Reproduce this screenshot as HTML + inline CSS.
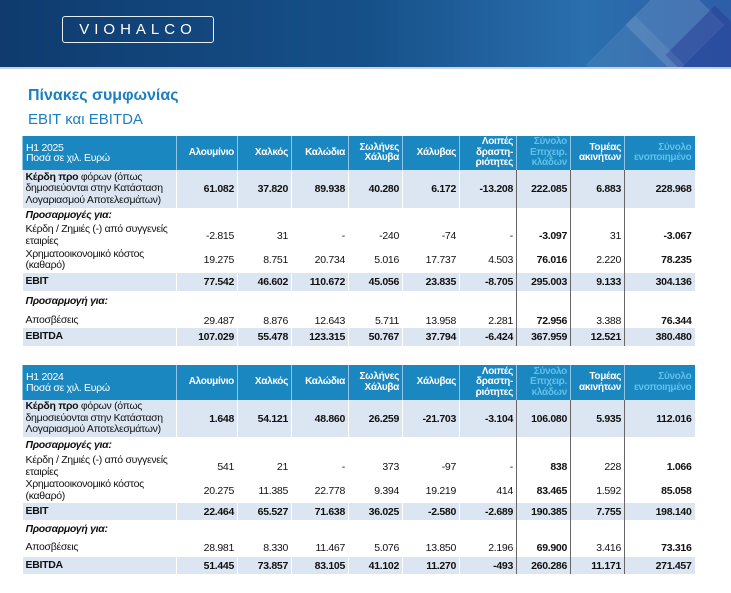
<!DOCTYPE html>
<html><head><meta charset="utf-8">
<style>
body{margin:0;width:731px;height:593px;background:#fff;font-family:"Liberation Sans",sans-serif;overflow:hidden;position:relative}
#banner{position:absolute;left:0;top:0;width:731px;height:67px;background:linear-gradient(90deg,#0f3b6e 0%,#165089 50%,#2a6fae 80%,#2f5da8 100%);border-bottom:2px solid #c9d3de;overflow:hidden}
.chev{position:absolute;width:70px;height:70px;transform:rotate(45deg);background:rgba(255,255,255,0.12)}
#logo{position:absolute;left:62px;top:16px;width:150px;height:25px;border:1.5px solid #e6eef6;border-radius:3px;color:#fff;font-size:15px;letter-spacing:5px;text-align:center;line-height:25px}
#t1{position:absolute;left:28px;top:87px;font-weight:bold;font-size:16px;color:#1b7fc0}
#t2{position:absolute;left:28px;top:111px;font-size:15px;color:#1b7fc0}
table{position:absolute;left:22px;border-collapse:collapse;table-layout:fixed;width:672px;font-size:10.5px;color:#111;letter-spacing:-0.3px}
td{padding:0 3px;text-align:right;border-left:1px solid #fff;white-space:nowrap;overflow:hidden}
td:first-child{text-align:left;white-space:normal;line-height:11.5px;border-left:none}
tr.h td{background:#1b87c0;color:#fff;font-weight:bold;line-height:10.5px;border-left:1px solid #8fc4e2;font-size:10px}
tr.h td:first-child{font-weight:normal;font-size:10.5px}
tr.h td.s{color:#5fc0ec}
tr.l td{background:#dce6f2}
tr.b td{font-weight:bold}
td.dk{border-left:1px solid #666 !important}
td.bd{font-weight:bold}
.it{font-style:italic;font-weight:bold}
</style></head><body>
<div id="banner">
<div class="chev" style="left:640px;top:-10px"></div>
<div class="chev" style="left:680px;top:20px;background:rgba(40,60,150,0.5)"></div>
<div class="chev" style="left:600px;top:30px;background:rgba(255,255,255,0.08)"></div>
<div id="logo">VIOHALCO</div>
</div>
<div id="t1">Πίνακες συμφωνίας</div>
<div id="t2">EBIT και EBITDA</div>

<table style="top:136px">
<colgroup><col style="width:154px"><col style="width:61px"><col style="width:54px"><col style="width:57px"><col style="width:54px"><col style="width:57px"><col style="width:57px"><col style="width:54px"><col style="width:54px"><col style="width:70px"></colgroup>
<tr class="h" style="height:34px"><td>H1 2025<br>Ποσά σε χιλ. Ευρώ</td><td>Αλουμίνιο</td><td>Χαλκός</td><td>Καλώδια</td><td>Σωλήνες<br>Χάλυβα</td><td>Χάλυβας</td><td>Λοιπές<br>δραστη-<br>ριότητες</td><td class="s">Σύνολο<br>Επιχειρ.<br>κλάδων</td><td>Τομέας<br>ακινήτων</td><td class="s">Σύνολο<br>ενοποιημένο</td></tr>
<tr class="l b" style="height:38px"><td><b>Κέρδη προ</b> <span style="font-weight:normal">φόρων (όπως δημοσιεύονται στην Κατάσταση Λογαριασμού Αποτελεσμάτων)</span></td><td>61.082</td><td>37.820</td><td>89.938</td><td>40.280</td><td>6.172</td><td>-13.208</td><td class="dk">222.085</td><td class="dk">6.883</td><td class="dk">228.968</td></tr>
<tr style="height:16px"><td class="it">Προσαρμογές για:</td><td></td><td></td><td></td><td></td><td></td><td></td><td class="dk"></td><td class="dk"></td><td class="dk"></td></tr>
<tr style="height:22px"><td>Κέρδη / Ζημιές (-) από συγγενείς εταιρίες</td><td>-2.815</td><td>31</td><td>-</td><td>-240</td><td>-74</td><td>-</td><td class="dk bd">-3.097</td><td class="dk">31</td><td class="dk bd">-3.067</td></tr>
<tr style="height:26px"><td>Χρηματοοικονομικό κόστος (καθαρό)</td><td>19.275</td><td>8.751</td><td>20.734</td><td>5.016</td><td>17.737</td><td>4.503</td><td class="dk bd">76.016</td><td class="dk">2.220</td><td class="dk bd">78.235</td></tr>
<tr class="l b" style="height:18px"><td>EBIT</td><td>77.542</td><td>46.602</td><td>110.672</td><td>45.056</td><td>23.835</td><td>-8.705</td><td class="dk">295.003</td><td class="dk">9.133</td><td class="dk">304.136</td></tr>
<tr style="height:22px"><td class="it">Προσαρμογή για:</td><td></td><td></td><td></td><td></td><td></td><td></td><td class="dk"></td><td class="dk"></td><td class="dk"></td></tr>
<tr style="height:15px"><td>Αποσβέσεις</td><td>29.487</td><td>8.876</td><td>12.643</td><td>5.711</td><td>13.958</td><td>2.281</td><td class="dk bd">72.956</td><td class="dk">3.388</td><td class="dk bd">76.344</td></tr>
<tr class="l b" style="height:18px"><td>EBITDA</td><td>107.029</td><td>55.478</td><td>123.315</td><td>50.767</td><td>37.794</td><td>-6.424</td><td class="dk">367.959</td><td class="dk">12.521</td><td class="dk">380.480</td></tr>
</table>

<table style="top:365px">
<colgroup><col style="width:154px"><col style="width:61px"><col style="width:54px"><col style="width:57px"><col style="width:54px"><col style="width:57px"><col style="width:57px"><col style="width:54px"><col style="width:54px"><col style="width:70px"></colgroup>
<tr class="h" style="height:35px"><td>H1 2024<br>Ποσά σε χιλ. Ευρώ</td><td>Αλουμίνιο</td><td>Χαλκός</td><td>Καλώδια</td><td>Σωλήνες<br>Χάλυβα</td><td>Χάλυβας</td><td>Λοιπές<br>δραστη-<br>ριότητες</td><td class="s">Σύνολο<br>Επιχειρ.<br>κλάδων</td><td>Τομέας<br>ακινήτων</td><td class="s">Σύνολο<br>ενοποιημένο</td></tr>
<tr class="l b" style="height:37px"><td><b>Κέρδη προ</b> <span style="font-weight:normal">φόρων (όπως δημοσιεύονται στην Κατάσταση Λογαριασμού Αποτελεσμάτων)</span></td><td>1.648</td><td>54.121</td><td>48.860</td><td>26.259</td><td>-21.703</td><td>-3.104</td><td class="dk">106.080</td><td class="dk">5.935</td><td class="dk">112.016</td></tr>
<tr style="height:18px"><td class="it">Προσαρμογές για:</td><td></td><td></td><td></td><td></td><td></td><td></td><td class="dk"></td><td class="dk"></td><td class="dk"></td></tr>
<tr style="height:19px"><td>Κέρδη / Ζημιές (-) από συγγενείς εταιρίες</td><td>541</td><td>21</td><td>-</td><td>373</td><td>-97</td><td>-</td><td class="dk bd">838</td><td class="dk">228</td><td class="dk bd">1.066</td></tr>
<tr style="height:25px"><td>Χρηματοοικονομικό κόστος (καθαρό)</td><td>20.275</td><td>11.385</td><td>22.778</td><td>9.394</td><td>19.219</td><td>414</td><td class="dk bd">83.465</td><td class="dk">1.592</td><td class="dk bd">85.058</td></tr>
<tr class="l b" style="height:17px"><td>EBIT</td><td>22.464</td><td>65.527</td><td>71.638</td><td>36.025</td><td>-2.580</td><td>-2.689</td><td class="dk">190.385</td><td class="dk">7.755</td><td class="dk">198.140</td></tr>
<tr style="height:19px"><td class="it">Προσαρμογή για:</td><td></td><td></td><td></td><td></td><td></td><td></td><td class="dk"></td><td class="dk"></td><td class="dk"></td></tr>
<tr style="height:18px"><td>Αποσβέσεις</td><td>28.981</td><td>8.330</td><td>11.467</td><td>5.076</td><td>13.850</td><td>2.196</td><td class="dk bd">69.900</td><td class="dk">3.416</td><td class="dk bd">73.316</td></tr>
<tr class="l b" style="height:17px"><td>EBITDA</td><td>51.445</td><td>73.857</td><td>83.105</td><td>41.102</td><td>11.270</td><td>-493</td><td class="dk">260.286</td><td class="dk">11.171</td><td class="dk">271.457</td></tr>
</table>
</body></html>
